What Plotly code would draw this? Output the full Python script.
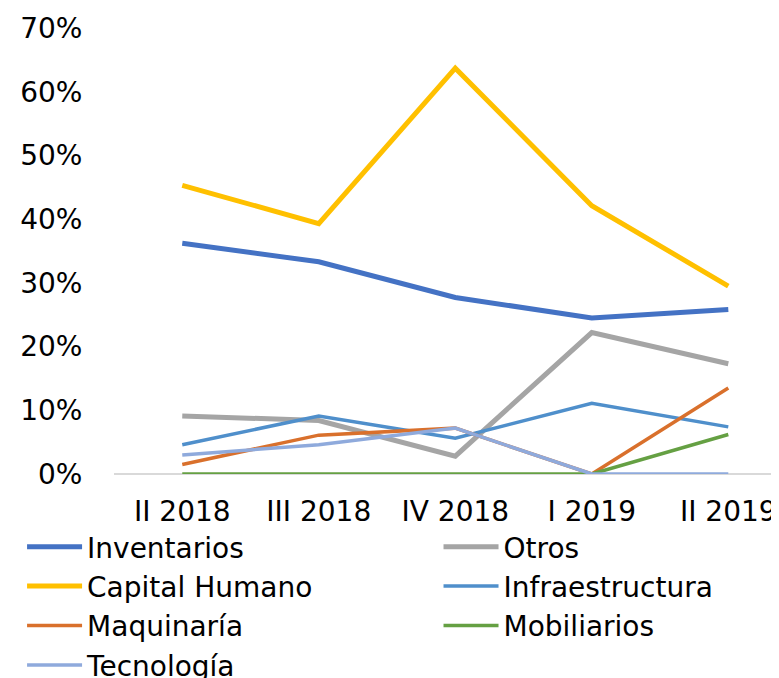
import plotly.graph_objects as go

categories = ["II 2018", "III 2018", "IV 2018", "I 2019", "II 2019"]

inventarios = [0.362, 0.333, 0.277, 0.245, 0.258]
otros = [0.091, 0.084, 0.028, 0.222, 0.173]
capital_humano = [0.453, 0.393, 0.637, 0.421, 0.295]
infraestructura = [0.046, 0.091, 0.056, 0.111, 0.074]
maquinaria = [0.015, 0.061, 0.072, 0.0, 0.135]
mobiliarios = [0.0, 0.0, 0.0, 0.0, 0.062]
tecnologia = [0.030, 0.046, 0.072, 0.0, 0.0]

series_names = ["Inventarios", "Otros", "Capital Humano", "Infraestructura",
                "Maquinaría", "Mobiliarios", "Tecnología"]
series_values = [inventarios, otros, capital_humano, infraestructura,
                 maquinaria, mobiliarios, tecnologia]
series_colors = ["#4472C4", "#A5A5A5", "#FFC000", "#4F8FCB",
                 "#D9702C", "#65A043", "#8FAADC"]
series_widths = [5, 5, 5, 3.5, 3.5, 3.5, 3.5]
# left legend column vs right legend column
series_legend = ["legend", "legend2", "legend", "legend2", "legend", "legend2", "legend"]

y_tickvals = [0, 0.1, 0.2, 0.3, 0.4, 0.5, 0.6, 0.7]
y_ticktext = ["0%", "10%", "20%", "30%", "40%", "50%", "60%", "70%"]

fig = go.Figure()
for name, vals, col, w, lg in zip(series_names, series_values, series_colors,
                                  series_widths, series_legend):
    fig.add_trace(go.Scatter(
        x=categories, y=vals, name=name, mode="lines",
        line=dict(color=col, width=w), legend=lg,
    ))

font_family = "DejaVu Sans, Verdana, sans-serif"
fs = 28

legend_common = dict(
    orientation="v",
    y=-0.1076, yanchor="top",
    itemwidth=55,
    tracegroupgap=0,
    font=dict(family=font_family, size=fs, color="#000000"),
    bgcolor="rgba(0,0,0,0)",
)

fig.update_layout(
    width=779, height=678,
    margin=dict(l=106, r=0, t=20, b=212, autoexpand=False),
    paper_bgcolor="white", plot_bgcolor="white",
    font=dict(family=font_family, size=fs, color="#000000"),
    showlegend=True,
    legend=dict(x=-0.1366, xanchor="left", **legend_common),
    legend2=dict(x=0.4822, xanchor="left", **legend_common),
    xaxis=dict(
        type="category",
        range=[-0.5, 4.43],
        automargin=False,
        showgrid=False, zeroline=False, showline=False,
        ticks="outside", ticklen=12, tickcolor="rgba(0,0,0,0)",
        tickfont=dict(family=font_family, size=fs, color="#000000"),
    ),
    yaxis=dict(
        range=[0, 0.7],
        automargin=False,
        tickvals=y_tickvals, ticktext=y_ticktext,
        showgrid=False,
        zeroline=True, zerolinecolor="#D9D9D9", zerolinewidth=1.5,
        showline=False,
        ticks="outside", ticklen=25, tickcolor="rgba(0,0,0,0)",
        tickfont=dict(family=font_family, size=fs, color="#000000"),
    ),
)

fig.write_html("out.html")
